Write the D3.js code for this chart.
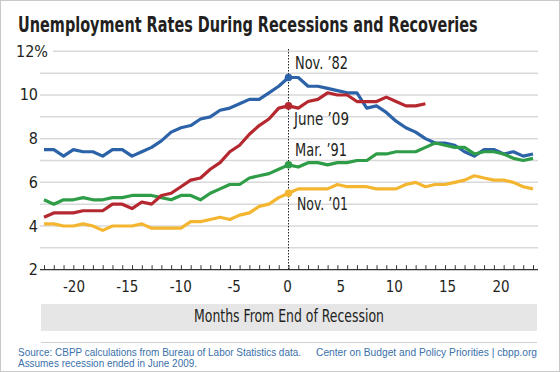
<!DOCTYPE html>
<html>
<head>
<meta charset="utf-8">
<script src="https://cdn.jsdelivr.net/npm/d3@7"></script>
<style>
  body { margin: 0; background: #fff; }
  svg { display: block; }
  text { font-family: "Liberation Sans Narrow", "DejaVu Sans Condensed", "Arial Narrow", sans-serif; fill: #231f20; }
</style>
</head>
<body>
<svg id="chart" width="560" height="372"></svg>
<script>
// months from end of recession
const months = d3.range(-25, 26);

// unemployment rate (%), one value per month starting at -25
const nov82 = [7.5, 7.5, 7.2, 7.5, 7.4, 7.4, 7.2, 7.5, 7.5, 7.2, 7.4, 7.6, 7.9, 8.3, 8.5, 8.6, 8.9, 9.0, 9.3, 9.4, 9.6, 9.8, 9.8, 10.1, 10.4,
  10.8,
  10.8, 10.4, 10.4, 10.3, 10.2, 10.1, 10.1, 9.4, 9.5, 9.2, 8.8, 8.5, 8.3, 8.0, 7.8, 7.8, 7.7, 7.4, 7.2, 7.5, 7.5, 7.3, 7.4, 7.2, 7.3];
const jun09 = [4.4, 4.6, 4.6, 4.6, 4.7, 4.7, 4.7, 5.0, 5.0, 4.8, 5.1, 5.0, 5.4, 5.5, 5.8, 6.1, 6.2, 6.6, 6.9, 7.4, 7.7, 8.2, 8.6, 8.9, 9.4,
  9.5,
  9.4, 9.7, 9.8, 10.1, 10.0, 10.0, 9.7, 9.7, 9.7, 9.9, 9.7, 9.5, 9.5, 9.6];
const mar91 = [5.2, 5.0, 5.2, 5.2, 5.3, 5.2, 5.2, 5.3, 5.3, 5.4, 5.4, 5.4, 5.3, 5.2, 5.4, 5.4, 5.2, 5.5, 5.7, 5.9, 5.9, 6.2, 6.3, 6.4, 6.6,
  6.8,
  6.7, 6.9, 6.9, 6.8, 6.9, 6.9, 7.0, 7.0, 7.3, 7.3, 7.4, 7.4, 7.4, 7.6, 7.8, 7.7, 7.6, 7.6, 7.3, 7.4, 7.4, 7.3, 7.1, 7.0, 7.1];
const nov01 = [4.1, 4.1, 4.0, 4.0, 4.1, 4.0, 3.8, 4.0, 4.0, 4.0, 4.1, 3.9, 3.9, 3.9, 3.9, 4.2, 4.2, 4.3, 4.4, 4.3, 4.5, 4.6, 4.9, 5.0, 5.3,
  5.5,
  5.7, 5.7, 5.7, 5.7, 5.9, 5.8, 5.8, 5.8, 5.7, 5.7, 5.7, 5.9, 6.0, 5.8, 5.9, 5.9, 6.0, 6.1, 6.3, 6.2, 6.1, 6.1, 6.0, 5.8, 5.7];

const seriesNames = ["Nov. \u201982", "Mar. \u201991", "June \u201909", "Nov. \u201901"];
const seriesColors = ["#2c62a8", "#2f9d47", "#b5282f", "#f4b630"];
const yTicks = [2, 4, 6, 8, 10, 12];
const yGrid = d3.range(3, 13);
const xLabels = [-20, -15, -10, -5, 0, 5, 10, 15, 20];

const svg = d3.select("#chart");

const x = d3.scaleLinear().domain([-25, 25]).range([44, 533]);
const y = d3.scaleLinear().domain([2, 12]).range([269.7, 51.3]);
// the printed month labels sit on their own spacing in the original
const xLab = d3.scaleLinear().domain([-20, 20]).range([74, 501]);

// frame
svg.append("rect")
  .attr("x", 0.5).attr("y", 0.5)
  .attr("width", 559).attr("height", 371)
  .attr("fill", "#fff")
  .attr("stroke", "#c9c9c9");

// title, squeezed horizontally to the condensed width of the original
const title = svg.append("text")
  .attr("x", 0).attr("y", 0)
  .style("font-size", "21px")
  .style("font-weight", "bold")
  .text("Unemployment Rates During Recessions and Recoveries");
const tw = title.node().getComputedTextLength();
title.attr("transform", `translate(18,32) scale(${460 / tw},1)`);

// gridlines
svg.append("g")
  .selectAll("line")
  .data(yGrid)
  .join("line")
  .attr("x1", d => d === 12 ? 53 : 40)
  .attr("x2", 538)
  .attr("y1", d => y(d))
  .attr("y2", d => y(d))
  .attr("stroke", "#d9d9d9")
  .attr("stroke-width", 1.5);

// y labels
svg.append("g")
  .selectAll("text")
  .data(yTicks)
  .join("text")
  .attr("x", d => d === 12 ? 48 : 38)
  .attr("y", d => y(d) + 5.5)
  .attr("text-anchor", "end")
  .style("font-size", "16px")
  .text(d => d === 12 ? "12%" : d);

// x axis with a tick every month
svg.append("line")
  .attr("x1", 40).attr("x2", 538)
  .attr("y1", y(2)).attr("y2", y(2))
  .attr("stroke", "#333")
  .attr("stroke-width", 1.2);

const xAxis = svg.append("g")
  .attr("transform", `translate(0,${y(2)})`)
  .call(d3.axisBottom(x).tickValues(months).tickSize(-4.5).tickFormat(""));
xAxis.select(".domain").remove();
xAxis.selectAll(".tick line").attr("stroke", "#333");

svg.append("g")
  .selectAll("text")
  .data(xLabels)
  .join("text")
  .attr("x", d => xLab(d))
  .attr("y", 291.5)
  .attr("text-anchor", "middle")
  .style("font-size", "15px")
  .text(d => String(d));

// axis title band
svg.append("rect")
  .attr("x", 41).attr("y", 304)
  .attr("width", 496).attr("height", 27)
  .attr("fill", "#e6e6e6");
svg.append("text")
  .attr("x", 289).attr("y", 322)
  .attr("text-anchor", "middle")
  .attr("textLength", 190)
  .attr("lengthAdjust", "spacingAndGlyphs")
  .style("font-size", "17px")
  .text("Months From End of Recession");

svg.append("line")
  .attr("x1", 41).attr("x2", 537)
  .attr("y1", 342.5).attr("y2", 342.5)
  .attr("stroke", "#d0d0d0");

// end-of-recession marker
svg.append("line")
  .attr("x1", x(0)).attr("x2", x(0))
  .attr("y1", 49).attr("y2", y(2))
  .attr("stroke", "#222")
  .attr("stroke-width", 1)
  .attr("stroke-dasharray", "1.5,1.5");

// lines
const line = d3.line()
  .x(d => x(d.m))
  .y(d => y(d.v));

const series = [nov82, mar91, jun09, nov01].map((vals, i) => ({
  name: seriesNames[i],
  color: seriesColors[i],
  points: vals.map((v, j) => ({ m: months[j], v }))
}));

svg.append("g")
  .selectAll("path")
  .data(series)
  .join("path")
  .attr("d", d => line(d.points))
  .attr("fill", "none")
  .attr("stroke", d => d.color)
  .attr("stroke-width", 3.2)
  .attr("stroke-linejoin", "round");

svg.append("g")
  .selectAll("circle")
  .data(series)
  .join("circle")
  .attr("cx", x(0))
  .attr("cy", d => y(d.points.find(p => p.m === 0).v))
  .attr("r", 3.8)
  .attr("fill", d => d.color);

// recession labels: [x, baseline, width]
const labelPos = {
  "Nov. \u201982": [295, 69, 53],
  "June \u201909": [294, 125, 55],
  "Mar. \u201991": [295, 156, 52],
  "Nov. \u201901": [297, 210, 51]
};
svg.append("g")
  .selectAll("text")
  .data(series)
  .join("text")
  .attr("x", d => labelPos[d.name][0])
  .attr("y", d => labelPos[d.name][1])
  .attr("textLength", d => labelPos[d.name][2])
  .attr("lengthAdjust", "spacingAndGlyphs")
  .style("font-size", "17px")
  .text(d => d.name);

// source notes
const note = svg.append("g").style("font-size", "10.5px");
note.append("text")
  .attr("x", 18).attr("y", 356)
  .attr("textLength", 283).attr("lengthAdjust", "spacingAndGlyphs")
  .style("fill", "#3a70ab")
  .style("font-family", "'Liberation Sans', sans-serif")
  .text("Source: CBPP calculations from Bureau of Labor Statistics data.");
note.append("text")
  .attr("x", 18).attr("y", 367)
  .attr("textLength", 179).attr("lengthAdjust", "spacingAndGlyphs")
  .style("fill", "#3a70ab")
  .style("font-family", "'Liberation Sans', sans-serif")
  .text("Assumes recession ended in June 2009.");
note.append("text")
  .attr("x", 537).attr("y", 356)
  .attr("text-anchor", "end")
  .attr("textLength", 221).attr("lengthAdjust", "spacingAndGlyphs")
  .style("fill", "#3a70ab")
  .style("font-family", "'Liberation Sans', sans-serif")
  .text("Center on Budget and Policy Priorities | cbpp.org");
</script>
</body>
</html>
